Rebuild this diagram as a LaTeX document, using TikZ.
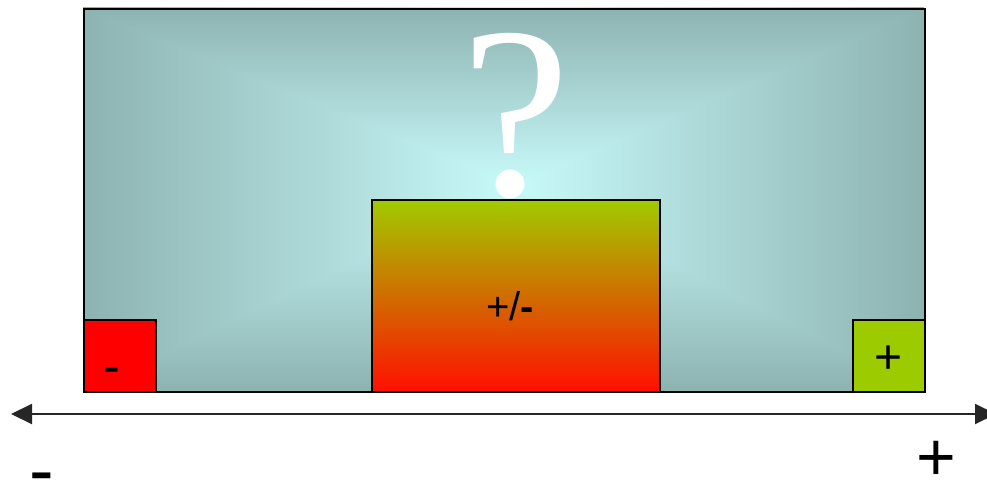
\documentclass[tikz,border=0pt]{standalone}
\usepackage{fontspec}
\setmainfont{Liberation Serif}
\setsansfont{Liberation Sans}
\usetikzlibrary{arrows.meta}
\definecolor{edgeteal}{RGB}{141,179,177}
\definecolor{centercyan}{RGB}{200,250,250}
\definecolor{topgreen}{RGB}{160,204,0}
\definecolor{midorange}{RGB}{220,112,0}
\definecolor{botred}{RGB}{255,16,0}
\definecolor{boxgreen}{RGB}{156,204,0}
\tikzset{
  boxline/.style={draw=black, line width=1.6pt},
  lbl/.style={font=\sffamily, inner sep=0pt, text=black},
}
\begin{document}
\begin{tikzpicture}[x=1pt,y=-1pt]
\useasboundingbox (0,0) rectangle (987,481);
% background gradient panel (rectangular gradient from centre)
\coordinate (c) at (515,185);
\shade[left color=edgeteal, right color=centercyan] (83,8) rectangle (515,391);
\shade[left color=centercyan, right color=edgeteal] (515,8) rectangle (924,391);
\begin{scope}
\clip (83,8) -- (924,8) -- (c) -- cycle;
\shade[top color=edgeteal, bottom color=centercyan] (83,8) rectangle (924,185);
\end{scope}
\begin{scope}
\clip (83,391) -- (924,391) -- (c) -- cycle;
\shade[top color=centercyan, bottom color=edgeteal] (83,185) rectangle (924,391);
\end{scope}
\node[boxline, minimum width=841pt, minimum height=383pt, inner sep=0pt, anchor=north west] (panel) at (83,8) {};
% question mark
\node[anchor=base, inner sep=0pt, text=white, font=\rmfamily\fontsize{245}{245}\selectfont] (q) at (516,196) {?};
% central box
\shade[top color=topgreen, middle color=midorange, bottom color=botred] (371,199) rectangle (659,391);
\node[boxline, minimum width=288pt, minimum height=192pt, inner sep=0pt, anchor=north west] (mid) at (371,199) {};
\node[lbl, font=\sffamily\fontsize{40}{40}\selectfont] (pm) at (510,306) {+/\textbf{-}};
% small boxes
\node[boxline, fill=red, minimum width=72pt, minimum height=72pt, inner sep=0pt, anchor=north west] (neg) at (83,319) {};
\node[lbl, font=\sffamily\fontsize{50}{50}\selectfont] (negl) at (112,376) {-};
\node[boxline, fill=boxgreen, minimum width=72pt, minimum height=72pt, inner sep=0pt, anchor=north west] (pos) at (852,319) {};
\node[lbl, font=\sffamily\fontsize{48}{48}\selectfont] (posl) at (889,360) {+};
% axis
\coordinate (al) at (11,414);
\coordinate (ar) at (996,414);
\draw[line width=2pt, draw=black!85, {Triangle[length=21pt,width=20pt]}-{Triangle[length=21pt,width=20pt]}] (al) -- (ar);
\node[lbl, font=\sffamily\fontsize{74}{74}\selectfont] (minus) at (42,484) {-};
\node[lbl, font=\sffamily\fontsize{68}{68}\selectfont] (plus) at (936,461) {+};
\end{tikzpicture}
\end{document}
